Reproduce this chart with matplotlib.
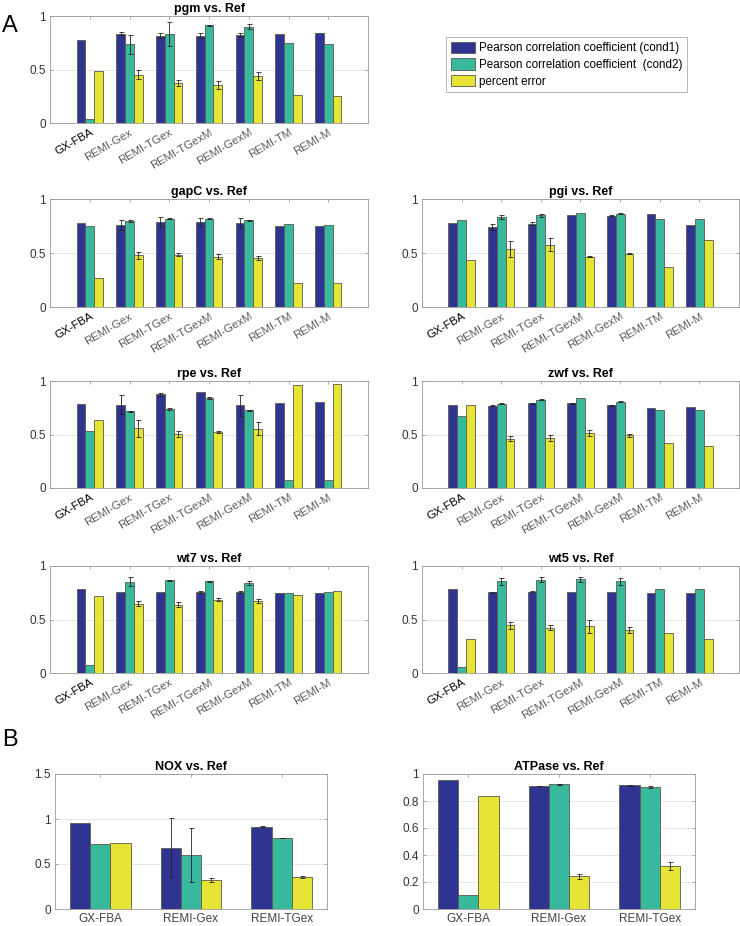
import numpy as np
import matplotlib
matplotlib.use('Agg')
import matplotlib.pyplot as plt
from matplotlib.patches import Patch

plt.rcParams['font.family'] = ['Liberation Sans', 'DejaVu Sans']

# methods on the x axis
methods_a = ['GX-FBA', 'REMI-Gex', 'REMI-TGex', 'REMI-TGexM', 'REMI-GexM', 'REMI-TM', 'REMI-M']
methods_b = ['GX-FBA', 'REMI-Gex', 'REMI-TGex']
legend_labels = ['Pearson correlation coefficient (cond1)',
                 'Pearson correlation coefficient  (cond2)',
                 'percent error']

# panel A values: cond1, cond2, percent error and their error bars (0 = none)
pgm_c1 = [0.774, 0.836, 0.817, 0.817, 0.824, 0.833, 0.839]
pgm_c2 = [0.04, 0.737, 0.833, 0.913, 0.901, 0.746, 0.734]
pgm_pe = [0.483, 0.452, 0.372, 0.353, 0.44, 0.266, 0.257]
pgm_c1_err = [0, 0.015, 0.02, 0.02, 0.02, 0, 0]
pgm_c2_err = [0, 0.09, 0.115, 0.005, 0.025, 0, 0]
pgm_pe_err = [0, 0.04, 0.03, 0.035, 0.04, 0, 0]

gapc_c1 = [0.781, 0.762, 0.79, 0.788, 0.778, 0.753, 0.747]
gapc_c2 = [0.75, 0.797, 0.816, 0.816, 0.803, 0.766, 0.756]
gapc_pe = [0.272, 0.478, 0.484, 0.466, 0.456, 0.222, 0.222]
gapc_c1_err = [0, 0.045, 0.045, 0.04, 0.045, 0, 0]
gapc_c2_err = [0, 0.008, 0.005, 0.005, 0.003, 0, 0]
gapc_pe_err = [0, 0.03, 0.015, 0.025, 0.02, 0, 0]

pgi_c1 = [0.781, 0.741, 0.772, 0.855, 0.846, 0.864, 0.759]
pgi_c2 = [0.802, 0.833, 0.849, 0.867, 0.864, 0.818, 0.815]
pgi_pe = [0.438, 0.537, 0.577, 0.466, 0.494, 0.373, 0.62]
pgi_c1_err = [0, 0.03, 0.015, 0, 0.005, 0, 0]
pgi_c2_err = [0, 0.015, 0.012, 0, 0.003, 0, 0]
pgi_pe_err = [0, 0.075, 0.06, 0.003, 0.003, 0, 0]

rpe_c1 = [0.781, 0.778, 0.875, 0.897, 0.772, 0.791, 0.803]
rpe_c2 = [0.534, 0.716, 0.741, 0.838, 0.725, 0.078, 0.075]
rpe_pe = [0.637, 0.559, 0.506, 0.522, 0.553, 0.963, 0.969]
rpe_c1_err = [0, 0.09, 0.015, 0, 0.1, 0, 0]
rpe_c2_err = [0, 0.005, 0.01, 0.008, 0.005, 0, 0]
rpe_pe_err = [0, 0.08, 0.03, 0.01, 0.06, 0, 0]

zwf_c1 = [0.778, 0.769, 0.79, 0.793, 0.772, 0.744, 0.753]
zwf_c2 = [0.673, 0.787, 0.827, 0.843, 0.806, 0.725, 0.728]
zwf_pe = [0.778, 0.46, 0.47, 0.515, 0.491, 0.423, 0.392]
zwf_c1_err = [0, 0.005, 0.005, 0.005, 0.005, 0, 0]
zwf_c2_err = [0, 0.005, 0.008, 0, 0.005, 0, 0]
zwf_pe_err = [0, 0.025, 0.03, 0.03, 0.015, 0, 0]

wt7_c1 = [0.782, 0.757, 0.757, 0.757, 0.757, 0.745, 0.745]
wt7_c2 = [0.074, 0.854, 0.866, 0.857, 0.838, 0.748, 0.757]
wt7_pe = [0.72, 0.648, 0.639, 0.685, 0.673, 0.725, 0.766]
wt7_c1_err = [0, 0, 0, 0.005, 0.005, 0, 0]
wt7_c2_err = [0, 0.04, 0.005, 0.005, 0.02, 0, 0]
wt7_pe_err = [0, 0.025, 0.02, 0.015, 0.015, 0, 0]

wt5_c1 = [0.782, 0.754, 0.76, 0.76, 0.754, 0.748, 0.748]
wt5_c2 = [0.059, 0.857, 0.872, 0.875, 0.857, 0.782, 0.782]
wt5_pe = [0.318, 0.444, 0.423, 0.435, 0.401, 0.373, 0.318]
wt5_c1_err = [0, 0.005, 0.005, 0, 0, 0, 0]
wt5_c2_err = [0, 0.03, 0.025, 0.025, 0.03, 0, 0]
wt5_pe_err = [0, 0.03, 0.025, 0.06, 0.03, 0, 0]

# panel B values
nox_c1 = [0.953, 0.683, 0.916]
nox_c2 = [0.724, 0.595, 0.787]
nox_pe = [0.735, 0.325, 0.355]
nox_c1_err = [0, 0.325, 0.003]
nox_c2_err = [0, 0.3, 0.003]
nox_pe_err = [0, 0.025, 0.015]

atp_c1 = [0.953, 0.911, 0.916]
atp_c2 = [0.103, 0.924, 0.904]
atp_pe = [0.84, 0.241, 0.318]
atp_c1_err = [0, 0.003, 0.005]
atp_c2_err = [0, 0.003, 0.005]
atp_pe_err = [0, 0.02, 0.03]

colors = ['#2f3490', '#38b99d', '#e6e535']
W, H = 740, 926


def rect(x0, x1, y0, y1):
    return [x0 / W, 1 - y1 / H, (x1 - x0) / W, (y1 - y0) / H]


def draw(ax, title, names, series, errs, ylim, yticks, rotate):
    n = len(names)
    x = np.arange(1, n + 1)
    w = 0.222
    for k in range(3):
        xs = x + (k - 1) * w
        ax.bar(xs, series[k], width=w, color=colors[k], edgecolor='#5a5a4a',
               linewidth=0.6, zorder=2)
        e = np.array(errs[k])
        m = e > 0
        ax.errorbar(xs[m], np.array(series[k])[m], yerr=e[m], fmt='none',
                    ecolor='#222222', elinewidth=0.6, capsize=1.8,
                    capthick=0.6, zorder=3)
    ax.set_xlim(0, n + 1) if rotate else ax.set_xlim(0.5, n + 0.5)
    ax.set_ylim(*ylim)
    ax.set_yticks(yticks)
    ax.set_yticklabels([f'{t:g}' for t in yticks], fontsize=8.5, color='#333333')
    ax.set_xticks(x)
    ax.yaxis.grid(True, color='#e3e3e3', linewidth=0.6, zorder=0)
    ax.set_axisbelow(True)
    ax.tick_params(direction='in', length=2.5, width=0.5, color='#888888',
                   top=True, right=True, pad=3)
    for s in ax.spines.values():
        s.set_color('#999999')
        s.set_linewidth(0.6)
    if rotate:
        ax.set_xticklabels(names, rotation=30, ha='right', rotation_mode='anchor',
                           fontsize=8.2)
        for i, lab in enumerate(ax.get_xticklabels()):
            lab.set_color('black' if i == 0 else '#5a5a5a')
    else:
        ax.set_xticklabels(names, fontsize=8.5, color='#444444')
    ax.set_title(title, fontsize=9, fontweight='bold', pad=3)


fig = plt.figure(figsize=(7.4, 9.26), dpi=100)

left = (50, 368)
right = (422, 739)
rows = [(16, 123), (199, 307), (381, 488), (566, 673)]

panels_a = [
    ('pgm vs. Ref', left, rows[0], (pgm_c1, pgm_c2, pgm_pe), (pgm_c1_err, pgm_c2_err, pgm_pe_err)),
    ('gapC vs. Ref', left, rows[1], (gapc_c1, gapc_c2, gapc_pe), (gapc_c1_err, gapc_c2_err, gapc_pe_err)),
    ('pgi vs. Ref', right, rows[1], (pgi_c1, pgi_c2, pgi_pe), (pgi_c1_err, pgi_c2_err, pgi_pe_err)),
    ('rpe vs. Ref', left, rows[2], (rpe_c1, rpe_c2, rpe_pe), (rpe_c1_err, rpe_c2_err, rpe_pe_err)),
    ('zwf vs. Ref', right, rows[2], (zwf_c1, zwf_c2, zwf_pe), (zwf_c1_err, zwf_c2_err, zwf_pe_err)),
    ('wt7 vs. Ref', left, rows[3], (wt7_c1, wt7_c2, wt7_pe), (wt7_c1_err, wt7_c2_err, wt7_pe_err)),
    ('wt5 vs. Ref', right, rows[3], (wt5_c1, wt5_c2, wt5_pe), (wt5_c1_err, wt5_c2_err, wt5_pe_err)),
]

for title, xr, yr, ser, err in panels_a:
    ax = fig.add_axes(rect(xr[0], xr[1], yr[0], yr[1]))
    draw(ax, title, methods_a, ser, err, (0, 1), [0, 0.5, 1], True)

ax = fig.add_axes(rect(55, 327, 774, 909))
draw(ax, 'NOX vs. Ref', methods_b, (nox_c1, nox_c2, nox_pe),
     (nox_c1_err, nox_c2_err, nox_pe_err), (0, 1.5), [0, 0.5, 1, 1.5], False)

ax = fig.add_axes(rect(423, 695, 774, 909))
draw(ax, 'ATPase vs. Ref', methods_b, (atp_c1, atp_c2, atp_pe),
     (atp_c1_err, atp_c2_err, atp_pe_err), (0, 1), [0, 0.2, 0.4, 0.6, 0.8, 1], False)

handles = [Patch(facecolor=c, edgecolor='#5a5a4a', linewidth=0.6) for c in colors]
leg = fig.legend(handles, legend_labels, loc='upper left',
                 bbox_to_anchor=(446 / W, 1 - 37 / H), fontsize=8.4,
                 frameon=True, fancybox=False, edgecolor='#999999',
                 handlelength=2.1, handleheight=1.1, handletextpad=0.3,
                 labelspacing=0.35, borderpad=0.4, borderaxespad=0)
leg.get_frame().set_linewidth(0.6)

fig.text(2 / W, 1 - 15 / H, 'A', fontsize=17, va='top', ha='left')
fig.text(2 / W, 1 - 729 / H, 'B', fontsize=17, va='top', ha='left')

fig.savefig('out.png', dpi=100)
